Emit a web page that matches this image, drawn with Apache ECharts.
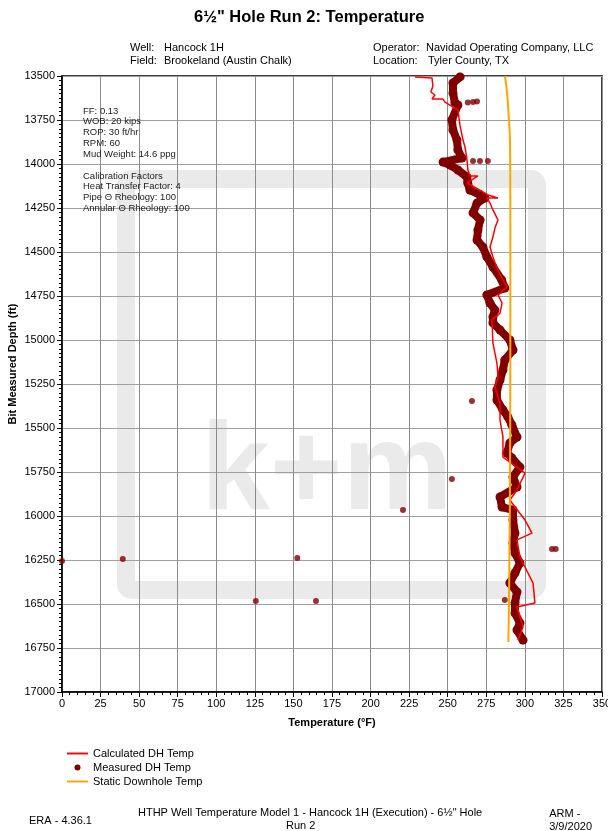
<!DOCTYPE html>
<html><head><meta charset="utf-8">
<script src="https://cdn.jsdelivr.net/npm/echarts@6/dist/echarts.min.js"></script>
<style>html,body{margin:0;padding:0;background:#fff}#c{width:608px;height:831px}</style>
</head><body><div id="c"></div>
<script>
// ---- Data ----
const xTicks = [0,25,50,75,100,125,150,175,200,225,250,275,300,325,350];
const yTicks = [13500,13750,14000,14250,14500,14750,15000,15250,15500,15750,16000,16250,16500,16750,17000];

// Calculated DH Temp (°F) vs depth (ft)
const calcTemp  = [228.8,239.8,240.4,239.1,241.7,239.8,246.9,248.2,256.6,257.9,259.9,261.2,262.5,263.1,264.4,269.6,262.5,270.9,276.1,282.6,275.4,277.4,279.3,282.6,280.6,279.3,277.4,279.3,281.9,288.4,282.6,285.2,283.9,278.7,279.3,280.6,281.9,282.6,280.6,283.9,283.9,285.8,285.8,285.8,300.1,294.9,290.3,293.6,300.1,304.6,294.9,296.8,305.3,306.5,294.9,298.8,295.5];
const calcDepth = [13506,13511,13557,13591,13608,13631,13631,13648,13693,13778,13864,13903,13977,14034,14068,14068,14108,14148,14176,14193,14193,14222,14261,14318,14364,14415,14472,14528,14591,14699,14744,14790,14847,14886,15017,15074,15131,15210,15267,15358,15455,15551,15625,15665,15756,15852,15909,15949,16023,16097,16136,16233,16381,16494,16517,16631,16705];

// Measured DH Temp - continuous trail
const measTemp  = [258,253.4,253.4,254.7,256.6,252.7,253.4,256,256.6,259.2,247,251.5,256.6,262.5,263,264.4,271,274,269,266.4,271,269.6,269,272.8,275.4,279.3,285,287,275.4,277.4,280.6,279.3,279.3,283.9,290.3,292.3,287,285.8,283.9,281.9,281.9,285.8,289,291.6,294.9,290.3,288.4,291.6,296.8,292.3,294.9,283.9,285.2,292.3,292.3,293.6,292.3,293.6,296.8,293.6,290.3,294.9,293.6,293.6,296.8,294.9,298.8];
const measDepth = [13505,13540,13597,13653,13665,13750,13807,13864,13920,13966,13989,14006,14034,14074,14108,14148,14176,14193,14222,14278,14318,14375,14432,14472,14528,14585,14659,14705,14744,14790,14830,14869,14903,14943,15000,15057,15114,15170,15227,15284,15341,15398,15437,15483,15551,15585,15642,15670,15722,15778,15835,15892,15949,15966,16023,16097,16153,16210,16267,16324,16381,16432,16494,16551,16608,16648,16705];
// Measured DH Temp - isolated readings
const measIsoTemp  = [263,266.4,269,266.4,270.9,276,265.7,252.7,221,317.6,320,287,0,39.4,152.5,125.6,164.6];
const measIsoDepth = [13650,13648,13645,13983,13983,13983,15347,15790,15966,16188,16188,16477,16256,16244,16239,16483,16483];

// Static Downhole Temp
const staticTemp  = [287.1,288.5,289.7,290.3,290.5,290.6,290.5,289.7,289.3];
const staticDepth = [13500,13600,13750,13850,14000,14500,15500,16500,16716];

const zip = (a,b) => a.map((v,i)=>[v,b[i]]);

const chart = echarts.init(document.getElementById('c'), null, {renderer:'canvas'});
const F = 'Liberation Sans, Arial, sans-serif';
const infoLines1 = ['FF: 0.13','WOB: 20 kips','ROP: 30 ft/hr','RPM: 60','Mud Weight: 14.6 ppg'];
const infoLines2 = ['Calibration Factors','Heat Transfer Factor: 4','Pipe \u0398 Rheology: 100','Annular \u0398 Rheology: 100'];

const txt = (x,y,t,opt={}) => ({type:'text', left:x, top:y, z:5, style:Object.assign({text:t, font:'11px '+F, fill:'#000'}, opt)});

chart.setOption({
  animation:false,
  backgroundColor:'#fff',
  title:{text:'6\u00bd" Hole Run 2: Temperature', left:189, top:4,
    textStyle:{fontFamily:F, fontSize:16.5, fontWeight:'bold', color:'#000'}},
  grid:{left:62, top:76, width:540, height:616, show:true, borderColor:'#000', borderWidth:1.5,
    backgroundColor:'transparent', containLabel:false, outerBoundsMode:'none'},
  xAxis:{type:'value', min:0, max:350, interval:25,
    name:'Temperature (\u00b0F)', nameLocation:'middle', nameGap:25,
    nameTextStyle:{fontFamily:F, fontSize:11, fontWeight:'bold', color:'#000'},
    axisLine:{lineStyle:{color:'#000', width:1.5}},
    axisTick:{show:true, length:5, lineStyle:{color:'#000'}},
    minorTick:{show:true, splitNumber:5, length:3, lineStyle:{color:'#000'}},
    axisLabel:{fontFamily:F, fontSize:11, color:'#000', margin:6, formatter:v=>String(v)},
    splitLine:{show:true, lineStyle:{color:'#8c8c8c', width:1}}},
  yAxis:{type:'value', min:13500, max:17000, interval:250, inverse:true,
    axisLine:{lineStyle:{color:'#000', width:1.5}},
    axisTick:{show:true, length:5, lineStyle:{color:'#000'}},
    minorTick:{show:true, splitNumber:10, length:3, lineStyle:{color:'#000'}},
    axisLabel:{fontFamily:F, fontSize:11, color:'#000', margin:7, formatter:v=>String(v)},
    splitLine:{show:true, lineStyle:{color:'#a0a0a0', width:1}}},
  legend:{orient:'vertical', left:67, top:748, padding:0, itemWidth:21, itemHeight:6, itemGap:3,
    textStyle:{fontFamily:F, fontSize:11, color:'#000'},
    data:[
      {name:'Calculated DH Temp', icon:'path://M0,0L22,0L22,2L0,2Z'},
      {name:'Measured DH Temp', icon:'circle'},
      {name:'Static Downhole Temp', icon:'path://M0,0L22,0L22,2L0,2Z'}]},
  graphic:[
    // watermark
    {type:'rect', z:-10, shape:{x:126, y:179, width:411, height:411, r:6},
      style:{fill:'none', stroke:'#eaeaea', lineWidth:18}},
    {type:'text', z:-10, left:201, top:413, style:{text:'k+m', font:'bold 124px '+F, fill:'#eaeaea'}},
    // y-axis title
    {type:'text', z:5, x:13, y:364, rotation:Math.PI/2,
      style:{text:'Bit Measured Depth (ft)', font:'bold 11px '+F, fill:'#000', align:'center', verticalAlign:'middle'}},
    // header
    txt(130,42,'Well:'), txt(164,42,'Hancock 1H'),
    txt(130,55,'Field:'), txt(164,55,'Brookeland (Austin Chalk)'),
    txt(373,42,'Operator:'), txt(426,42,'Navidad Operating Company, LLC'),
    txt(373,55,'Location:'), txt(428,55,'Tyler County, TX'),
    // info box
    ...infoLines1.map((t,i)=>txt(83,106+i*10.8,t,{font:'9.5px '+F, fill:'#222'})),
    ...infoLines2.map((t,i)=>txt(83,171+i*10.8,t,{font:'9.5px '+F, fill:'#222'})),
    // footer
    txt(29,815,'ERA - 4.36.1'),
    {type:'text', left:138, top:807, z:5, style:{text:'HTHP Well Temperature Model 1 - Hancock 1H (Execution) - 6\u00bd" Hole', font:'11px '+F, fill:'#000'}},
    {type:'text', left:286, top:820, z:5, style:{text:'Run 2', font:'11px '+F, fill:'#000'}},
    {type:'text', right:16, top:807, z:5, style:{text:'ARM -\n3/9/2020', font:'11px '+F, fill:'#000', align:'right', lineHeight:13}}
  ],
  series:[
    {name:'Measured DH Temp', type:'line', data:zip(measTemp,measDepth), z:2,
      symbol:'circle', symbolSize:9, showSymbol:true, color:'#800000',
      itemStyle:{color:'#800000'}, lineStyle:{color:'#800000', width:8, cap:'round', join:'round'}},
    {name:'Measured DH Temp', type:'scatter', data:zip(measIsoTemp,measIsoDepth), z:3,
      symbol:'circle', symbolSize:6, itemStyle:{color:'#800000'}},
    {name:'Calculated DH Temp', type:'line', data:zip(calcTemp,calcDepth), z:4,
      symbol:'none', color:'#ff0000', lineStyle:{color:'#ff0000', width:1.5}},
    {name:'Static Downhole Temp', type:'line', data:zip(staticTemp,staticDepth), z:5, smooth:true,
      symbol:'none', color:'#ffa500', lineStyle:{color:'#ffa500', width:2}}
  ]
});
</script></body></html>
